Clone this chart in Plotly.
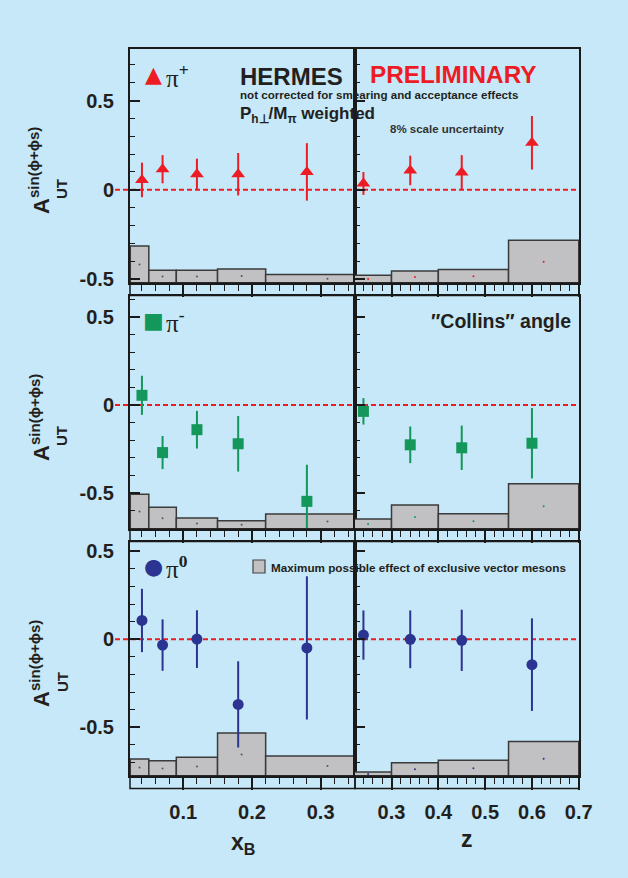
import plotly.graph_objects as go

# ---- data -------------------------------------------------------------
xb_points = [0.04, 0.07, 0.12, 0.18, 0.28]
z_points = [0.24, 0.34, 0.45, 0.60]
xb_edges = [0.023, 0.05, 0.09, 0.15, 0.22, 0.40]
z_edges = [0.20, 0.30, 0.40, 0.55, 0.70]

pip_xb = [0.055, 0.115, 0.087, 0.087, 0.100]
pip_xb_err = [0.097, 0.079, 0.087, 0.119, 0.161]
pip_z = [0.035, 0.108, 0.097, 0.263]
pip_z_err = [0.064, 0.083, 0.097, 0.150]

pim_xb = [0.055, -0.270, -0.140, -0.220, -0.547]
pim_xb_err = [0.111, 0.094, 0.107, 0.158, 0.208]
pim_z = [-0.036, -0.226, -0.243, -0.217]
pim_z_err = [0.075, 0.104, 0.126, 0.200]

pi0_xb = [0.107, -0.033, 0.001, -0.370, -0.049]
pi0_xb_err = [0.180, 0.146, 0.164, 0.245, 0.407]
pi0_z = [0.024, 0.000, -0.006, -0.144]
pi0_z_err = [0.140, 0.164, 0.174, 0.263]

# upper edge of the exclusive-vector-meson band, per bin
vm_pip_xb = [-0.316, -0.451, -0.451, -0.445, -0.475]
vm_pip_z = [-0.479, -0.456, -0.447, -0.284]
vm_pim_xb = [-0.506, -0.581, -0.642, -0.657, -0.619]
vm_pim_z = [-0.647, -0.568, -0.617, -0.447]
vm_pi0_xb = [-0.680, -0.691, -0.670, -0.532, -0.663]
vm_pi0_z = [-0.754, -0.701, -0.688, -0.581]

y_ticks = [-0.5, 0, 0.5]
y_tick_text = ["-0.5", "0", "0.5"]

# ---- styling ----------------------------------------------------------
W, H = 628, 878
BG = "#c6e8f8"
INK = "#231f20"
RED = "#ed1c24"
GREEN = "#14975a"
BLUE = "#2b3490"
BAND = "#c1c1c4"
FONT = "Liberation Sans"

col_px = [(130, 355), (355, 579)]
row_px = [(49, 283), (296, 529), (542, 776)]
y_ranges = [(-0.523, 0.789), (-0.704, 0.619), (-0.777, 0.553)]
x_ranges = [(0.0226, 0.35), (0.222, 0.7005)]


def px(x):
    return x / W


def py(y):
    return 1 - y / H


rows = [
    dict(color=RED, symbol="triangle-up", size=12,
         left=(pip_xb, pip_xb_err, vm_pip_xb), right=(pip_z, pip_z_err, vm_pip_z)),
    dict(color=GREEN, symbol="square", size=11,
         left=(pim_xb, pim_xb_err, vm_pim_xb), right=(pim_z, pim_z_err, vm_pim_z)),
    dict(color=BLUE, symbol="circle", size=11,
         left=(pi0_xb, pi0_xb_err, vm_pi0_xb), right=(pi0_z, pi0_z_err, vm_pi0_z)),
]

fig = go.Figure()
layout = {}
shapes = []
annotations = []


def label(text, x, y, size, color=INK, xanchor="left", yanchor="middle",
          family=FONT, angle=0):
    annotations.append(dict(text=text, x=px(x), y=py(y), xref="paper", yref="paper",
                            xanchor=xanchor, yanchor=yanchor, showarrow=False,
                            textangle=angle,
                            font=dict(family=family, size=size, color=color)))


for r, spec in enumerate(rows):
    for c in range(2):
        n = 2 * r + c + 1
        xa = "x" if n == 1 else f"x{n}"
        ya = "y" if n == 1 else f"y{n}"
        xkey = "xaxis" if n == 1 else f"xaxis{n}"
        ykey = "yaxis" if n == 1 else f"yaxis{n}"
        xs = xb_points if c == 0 else z_points
        edges = xb_edges if c == 0 else z_edges
        vals, errs, tops = spec["left"] if c == 0 else spec["right"]
        ymin = y_ranges[r][0]

        centers = [(a + b) / 2 for a, b in zip(edges[:-1], edges[1:])]
        widths = [b - a for a, b in zip(edges[:-1], edges[1:])]
        fig.add_trace(go.Bar(
            x=centers, y=[t - ymin for t in tops], base=ymin, width=widths,
            marker=dict(color=BAND, line=dict(color="#3a3a3a", width=1.5)),
            xaxis=xa, yaxis=ya, showlegend=False, hoverinfo="skip"))
        fig.add_trace(go.Scatter(
            x=centers, y=[(t + ymin) / 2 for t in tops], mode="markers",
            marker=dict(size=2, color="#555" if c == 0 else spec["color"]),
            xaxis=xa, yaxis=ya, showlegend=False, hoverinfo="skip"))
        fig.add_trace(go.Scatter(
            x=xs, y=vals, mode="markers",
            marker=dict(symbol=spec["symbol"], size=spec["size"], color=spec["color"]),
            error_y=dict(type="data", array=errs, thickness=2, width=0,
                         color=spec["color"]),
            xaxis=xa, yaxis=ya, showlegend=False))

        bottom = r == 2
        layout[xkey] = dict(
            domain=[px(col_px[c][0]), px(col_px[c][1])],
            range=list(x_ranges[c]), anchor=ya, automargin=False,
            showline=True, mirror=True, linecolor="#1a1a1a", linewidth=2,
            showgrid=False, zeroline=False,
            tickmode="linear", tick0=0, dtick=0.1,
            ticks="outside", ticklen=12, tickwidth=1.5, tickcolor="#1a1a1a",
            minor=dict(tickmode="linear", tick0=0, dtick=0.02, ticks="outside",
                       ticklen=6, tickwidth=1.2, tickcolor="#1a1a1a"),
            showticklabels=bottom, ticklabelstandoff=5,
            tickfont=dict(family=FONT, size=20, color=INK, weight="bold"))
        layout[ykey] = dict(
            domain=[py(row_px[r][1]), py(row_px[r][0])],
            range=list(y_ranges[r]), anchor=xa, automargin=False,
            showline=True, mirror=True, linecolor="#1a1a1a", linewidth=2,
            showgrid=False, zeroline=False,
            tickmode="array", tickvals=y_ticks, ticktext=y_tick_text,
            ticks="inside", ticklen=10, tickwidth=1.5, tickcolor="#1a1a1a",
            minor=dict(tickmode="linear", tick0=0, dtick=0.1, ticks="inside",
                       ticklen=5, tickwidth=1.2, tickcolor="#1a1a1a"),
            showticklabels=(c == 0), ticklabelstandoff=10,
            tickfont=dict(family=FONT, size=20, color=INK, weight="bold"))

        # tick band below each panel
        band = 12.5 / (row_px[r][1] - row_px[r][0])
        shapes.append(dict(type="rect", xref=f"{xa} domain", yref=f"{ya} domain",
                           x0=0, x1=1, y0=-band, y1=0,
                           line=dict(color="#1a1a1a", width=1.5)))

    # dashed zero line across both columns
    ya_left = "y" if r == 0 else f"y{2 * r + 1}"
    shapes.append(dict(type="line", xref="paper", yref=ya_left,
                       x0=px(115), x1=px(576), y0=0, y1=0, layer="below",
                       line=dict(color=RED, width=2, dash="5px,3px")))

    # vertical axis title: A, superscript and subscript placed separately
    top = row_px[r][0]
    label("<b>A</b>", 41, top + 157, 22, xanchor="center", angle=-90)
    label("<b>sin(ϕ+ϕs)</b>", 34, top + 114, 15, xanchor="center", angle=-90)
    label("<b>UT</b>", 62, top + 140, 15, xanchor="center", angle=-90)

# particle keys
keys = [("▲", RED, "+", 75), ("■", GREEN, "-", 320), ("●", BLUE, "0", 566)]
for glyph, colr, sup, yk in keys:
    label(glyph, 153.5, yk, 22, color=colr, xanchor="center", family="DejaVu Sans")
    label(f"π<sup><b>{sup}</b></sup>", 164, yk + 1, 25, family="Liberation Serif")

label("<b>HERMES</b>", 238, 76, 24)
label("<b>PRELIMINARY</b>", 368, 75, 24.3, color=RED)
label("<b>not corrected for smearing and acceptance effects</b>", 238, 94.5, 11.6)
label("<b>P<sub>h⊥</sub>/M<sub>π</sub> weighted</b>", 238, 115, 17)
label("<b>8% scale uncertainty</b>", 388, 129, 11.5, color="#333")
label("<b>″Collins″ angle</b>", 573, 321, 19.5, xanchor="right")
label("<b>Maximum possible effect of exclusive vector mesons</b>", 269, 567, 11.7)
label("<b>x<sub>B</sub></b>", 243, 843, 23, xanchor="center")
label("<b>z</b>", 467, 839, 23, xanchor="center")

shapes.append(dict(type="rect", xref="paper", yref="paper",
                   x0=px(253), x1=px(265), y0=py(573), y1=py(560),
                   fillcolor=BAND, line=dict(color="#444", width=1.2)))

fig.update_layout(
    template="none",
    width=W, height=H, margin=dict(l=0, r=0, t=0, b=0, pad=0), autosize=False,
    paper_bgcolor=BG, plot_bgcolor="rgba(0,0,0,0)",
    barmode="overlay", showlegend=False,
    shapes=shapes, annotations=annotations, **layout)

fig.write_html("out.html", config={"displayModeBar": False})
